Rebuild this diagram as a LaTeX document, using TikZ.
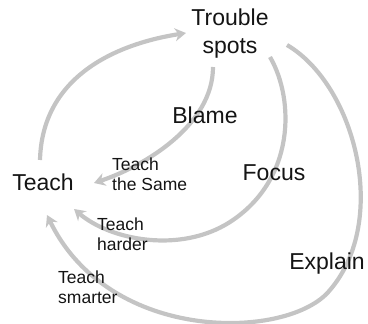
\documentclass[tikz,border=0pt]{standalone}
\usepackage{fontspec}
\setmainfont{Liberation Sans}
\usetikzlibrary{arrows.meta}
\definecolor{arrowgray}{RGB}{196,196,196}
\definecolor{txt}{RGB}{20,20,20}
\tikzset{
  big/.style={inner sep=0pt, text=txt, align=center, font=\fontsize{23}{28}\selectfont},
  small/.style={inner sep=0pt, text=txt, align=left, anchor=west, font=\fontsize{17.5}{20.5}\selectfont},
  flow/.style={draw=arrowgray, line width=4.2pt, -{Stealth[length=11pt,width=13pt,inset=3.5pt]}}
}
\begin{document}
\begin{tikzpicture}[x=1pt,y=-1pt]
\useasboundingbox (0,0) rectangle (368,324);
% endpoints
\coordinate (a1s) at (40,160);
\coordinate (a1e) at (186,33);
\coordinate (a2s) at (213,67);
\coordinate (a2e) at (94,183);
\coordinate (a3s) at (270,57);
\coordinate (a3m) at (230,222);
\coordinate (a3e) at (74,209);
\coordinate (a4s) at (287,45);
\coordinate (a4m) at (330,290);
\coordinate (a4e) at (47,215);
\draw[flow] (a1s) .. controls (42,80) and (110,45) .. (a1e);
\draw[flow] (a2s) .. controls (213,125) and (145,166) .. (a2e);
\draw[flow] (a3s) .. controls (295,100) and (295,180) .. (a3m)
  .. controls (180,254) and (110,240) .. (a3e);
\draw[flow] (a4s) .. controls (355,85) and (390,220) .. (a4m)
  .. controls (290,340) and (110,345) .. (a4e);
% labels
\node[big] (ts) at (230,34) {Trouble\\spots};
\node[big] (teach) at (43,182) {Teach};
\node[big] (blame) at (205,115) {Blame};
\node[big] (focus) at (274,173) {Focus};
\node[big] (explain) at (327,264) {Explain};
\node[small] (same) at (112,174) {Teach\\the Same};
\node[small] (harder) at (97,234) {Teach\\harder};
\node[small] (smarter) at (58,287) {Teach\\smarter};
\end{tikzpicture}
\end{document}
